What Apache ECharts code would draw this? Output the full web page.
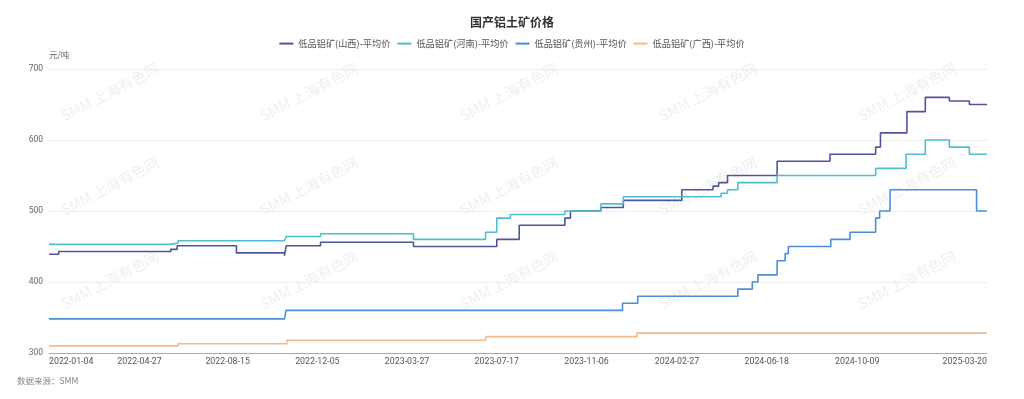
<!DOCTYPE html>
<html>
<head>
<meta charset="utf-8">
<script src="https://cdn.jsdelivr.net/npm/echarts@6.0.0/dist/echarts.min.js"></script>
<style>
html,body{margin:0;padding:0;background:#fff;}
#chart{width:1024px;height:399px;}
</style>
</head>
<body>
<div id="chart"></div>
<script>
// Tick labels on the x axis
var tickLabels = ['2022-01-04','2022-04-27','2022-08-15','2022-12-05','2023-03-27','2023-07-17','2023-11-06','2024-02-27','2024-06-18','2024-10-09','2025-03-20'];
var seriesNames = ['低品铝矿(山西)-平均价','低品铝矿(河南)-平均价','低品铝矿(贵州)-平均价','低品铝矿(广西)-平均价'];

// Step prices: [date the price took effect, price] (元/吨)
var shanxi = [
  ['2022-01-04',439],['2022-01-16',443],['2022-06-05',446],['2022-06-13',451],['2022-08-26',441],
  ['2022-10-25',437],['2022-10-27',451],['2022-12-09',456],['2023-04-04',450],['2023-07-17',460],
  ['2023-08-14',480],['2023-10-10',490],['2023-10-17',500],['2023-11-24',505],['2023-12-22',515],
  ['2024-03-04',530],['2024-04-12',535],['2024-04-19',540],['2024-04-30',550],['2024-07-01',570],
  ['2024-09-05',580],['2024-11-01',590],['2024-11-07',610],['2024-12-10',640],['2025-01-02',660],
  ['2025-02-01',655],['2025-02-26',650],['2025-03-20',650]
];
var henan = [
  ['2022-01-04',453],['2022-06-05',455],['2022-06-14',458],['2022-10-25',456],['2022-10-27',464],
  ['2022-12-09',468],['2023-04-04',460],['2023-07-03',470],['2023-07-17',490],['2023-08-03',495],
  ['2023-10-10',500],['2023-11-24',510],['2023-12-22',520],['2024-04-22',525],['2024-04-30',530],
  ['2024-05-13',540],['2024-07-01',550],['2024-11-01',560],['2024-12-09',580],['2025-01-02',600],
  ['2025-02-01',590],['2025-02-26',580],['2025-03-20',580]
];
var guizhou = [
  ['2022-01-04',348],['2022-10-25',346],['2022-10-27',360],['2023-12-21',370],['2024-01-09',380],
  ['2024-05-13',390],['2024-05-31',400],['2024-06-07',410],['2024-07-01',430],['2024-07-11',440],
  ['2024-07-15',450],['2024-09-06',460],['2024-09-30',470],['2024-11-01',490],['2024-11-06',500],
  ['2024-11-19',530],['2025-03-07',500],['2025-03-20',500]
];
var guangxi = [
  ['2022-01-04',310],['2022-06-14',313],['2022-10-28',318],['2023-07-03',323],['2024-01-08',328],
  ['2025-03-20',328]
];

var colors = ['#4f559d','#4fbfd0','#4a8edd','#f6b98a'];

var chart = echarts.init(document.getElementById('chart'), null, {renderer:'canvas'});

var wm = [];
var wmX = [110, 309, 509, 708, 907];
var wmY = [92, 186, 280];
wmY.forEach(function(y){
  wmX.forEach(function(x){
    wm.push({
      type:'text', x:x, y:y, rotation: 27.3*Math.PI/180, silent:true, z:-1,
      style:{text:'SMM 上海有色网', fill:'rgba(0,0,0,0.07)', font:'14.5px "Noto Sans CJK SC", sans-serif', align:'center', verticalAlign:'middle'}
    });
  });
});
wm.push({
  type:'text', left:17, top:377, silent:true,
  style:{text:'数据来源：SMM', fill:'#888', font:'8.5px "Noto Sans CJK SC", sans-serif'}
});

function mk(name, data, color){
  return {
    name:name, type:'line', step:'end', data:data, symbol:'none', showSymbol:false,
    xAxisIndex:0, lineStyle:{width:1.6, color:color}, itemStyle:{color:color}, animation:false
  };
}

var firstLabel = tickLabels[0], lastLabel = tickLabels[tickLabels.length-1];
var innerLabels = tickLabels.slice(1, tickLabels.length-1);

function xAx(values, align, showLine){
  return {
    type:'time', min:firstLabel, max:lastLabel, gridIndex:0, position:'bottom',
    axisLine:{show:showLine, lineStyle:{color:'#aaa'}},
    axisTick:{show:false},
    splitLine:{show:false},
    axisLabel:{
      customValues: values, formatter:'{yyyy}-{MM}-{dd}', align:align,
      color:'#555', fontSize:8.8, fontFamily:'Roboto, sans-serif', margin:4, hideOverlap:false
    }
  };
}

chart.setOption({
  animation:false,
  color: colors,
  title:{
    text:'国产铝土矿价格', left:'center', top:11,
    textStyle:{fontSize:12, fontWeight:'bold', color:'#333', fontFamily:'"Noto Sans CJK SC", sans-serif'}
  },
  legend:{
    top:34, left:'center', icon:'rect', itemWidth:14, itemHeight:2, itemGap:7,
    textStyle:{fontSize:9.2, color:'#555', fontFamily:'"Noto Sans CJK SC", sans-serif'},
    data: seriesNames
  },
  grid:{left:49, right:37, top:69, bottom:46, containLabel:false, outerBoundsMode:'none'},
  xAxis:[
    xAx(innerLabels, 'center', true),
    xAx([firstLabel], 'left', false),
    xAx([lastLabel], 'right', false)
  ],
  yAxis:{
    type:'value', min:300, max:700, interval:100,
    name:'元/吨', nameGap:10,
    nameTextStyle:{color:'#666', fontSize:8.5, align:'left', fontFamily:'"Noto Sans CJK SC", sans-serif'},
    axisLine:{show:false}, axisTick:{show:false},
    axisLabel:{color:'#666', fontSize:8.5, fontFamily:'Roboto, sans-serif', margin:6},
    splitLine:{lineStyle:{color:'#eee'}}
  },
  graphic: wm,
  series:[
    mk(seriesNames[0], shanxi, colors[0]),
    mk(seriesNames[1], henan, colors[1]),
    mk(seriesNames[2], guizhou, colors[2]),
    mk(seriesNames[3], guangxi, colors[3])
  ]
});
</script>
</body>
</html>
